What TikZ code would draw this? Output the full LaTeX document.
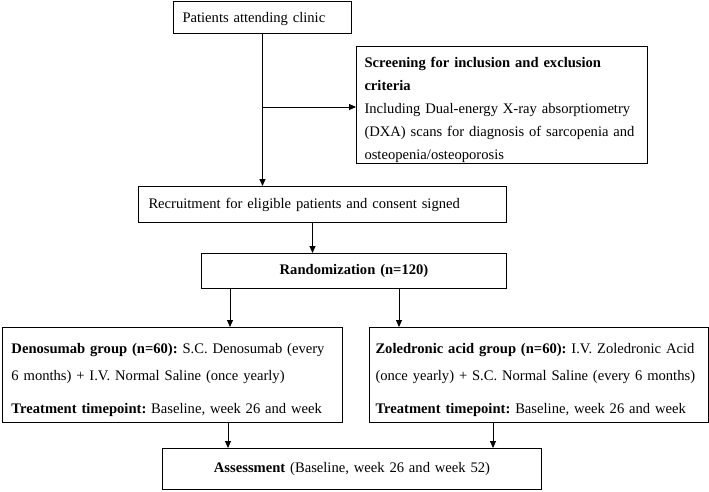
\documentclass[tikz,border=0pt]{standalone}
\usepackage{fontspec}
\setmainfont{Liberation Serif}
\usetikzlibrary{arrows.meta}

\tikzset{
  box/.style={draw, line width=1pt, anchor=north west, inner ysep=0pt, inner xsep=10pt,
    align=left, font=\fontsize{14.6}{23}\selectfont\frenchspacing},
  arr/.style={-{Triangle[length=7pt,width=6pt]}, line width=0.9pt}
}
% taller first line, pushes the block of text down a little
\newcommand{\toppad}{\rule{0pt}{20pt}}

\begin{document}
\begin{tikzpicture}[x=1pt,y=-1pt]
    % Frame of the picture
    \useasboundingbox (0,0) rectangle (709,491);

    % Boxes of the flow
    \node[box, inner xsep=9pt, text width=160pt, minimum height=32pt] (patients) at (173,1)
        {\rule{0pt}{14pt}Patients attending clinic};
    \node[box, inner xsep=8pt, text width=275pt, minimum height=117pt] (screen) at (356,46)
        {\toppad\textbf{Screening for inclusion and exclusion}\\
         \textbf{criteria}\\
         Including Dual-energy X-ray absorptiometry\\
         (DXA) scans for diagnosis of sarcopenia and\\
         osteopenia/osteoporosis};
    \node[box, text width=348pt, minimum height=36pt] (recruit) at (138,186)
        {Recruitment for eligible patients and consent signed};
    \node[box, align=center, text width=285pt, minimum height=35pt] (random) at (201,253)
        {\textbf{Randomization (n=120)}};
    \node[box, inner xsep=9pt, text width=322pt, minimum height=95pt,
          font=\fontsize{14.6}{27}\selectfont\frenchspacing] (deno) at (2,327)
        {\toppad\textbf{Denosumab group (n=60):} S.C. Denosumab (every\\
         6 months) + I.V. Normal Saline (once yearly)\\[6pt]
         \textbf{Treatment timepoint:} Baseline, week 26 and week};
    \node[box, inner xsep=6pt, text width=327pt, minimum height=95pt,
          font=\fontsize{14.6}{27}\selectfont\frenchspacing] (zole) at (369,327)
        {\toppad\textbf{Zoledronic acid group (n=60):} I.V. Zoledronic Acid\\
         (once yearly) + S.C. Normal Saline (every 6 months)\\[6pt]
         \textbf{Treatment timepoint:} Baseline, week 26 and week};
    \node[box, align=center, text width=359pt, minimum height=41pt] (assess) at (162,448)
        {\textbf{Assessment} (Baseline, week 26 and week 52)};

    % Arrows
    \draw[arr] (patients.south) -- (patients.south |- recruit.north);
    \draw[arr] ([yshift=-2pt]patients.south |- screen.west) -- ([yshift=-2pt]screen.west);
    \draw[arr] ([xshift=-10pt]recruit.south) -- ([xshift=-10pt]recruit.south |- random.north);
    \draw[arr] ([xshift=29pt]random.south west) -- ([xshift=29pt]random.south west |- deno.north);
    \draw[arr] ([xshift=198pt]random.south west) -- ([xshift=198pt]random.south west |- zole.north);
    \draw[arr] ([xshift=226pt]deno.south west) -- ([xshift=226pt]deno.south west |- assess.north);
    \draw[arr] ([xshift=124pt]zole.south west) -- ([xshift=124pt]zole.south west |- assess.north);
\end{tikzpicture}
\end{document}
